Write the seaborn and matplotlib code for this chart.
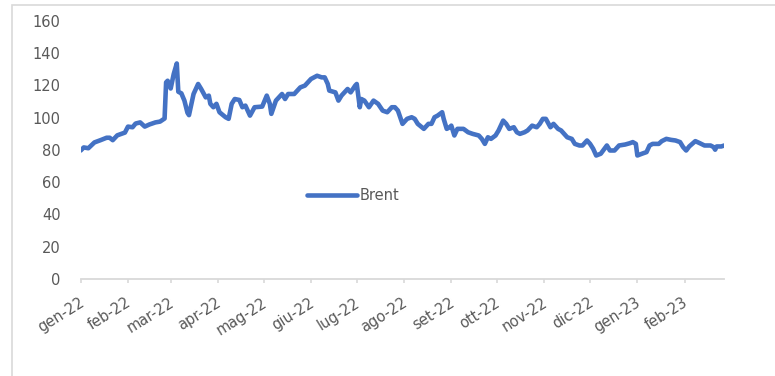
import matplotlib
matplotlib.use("Agg")
import matplotlib.pyplot as plt
import matplotlib.transforms as mtransforms
from matplotlib.patches import Rectangle
import pandas as pd
import seaborn as sns

# Brent spot price, USD per barrel
dates = [
    "2022-01-03", "2022-01-05", "2022-01-08", "2022-01-12", "2022-01-16", "2022-01-20", "2022-01-22",
    "2022-01-24", "2022-01-27",
    "2022-02-01", "2022-02-03", "2022-02-06", "2022-02-08", "2022-02-11", "2022-02-14", "2022-02-17",
    "2022-02-21", "2022-02-24", "2022-02-27", "2022-02-28",
    "2022-03-01", "2022-03-03", "2022-03-05", "2022-03-07", "2022-03-08", "2022-03-10", "2022-03-12",
    "2022-03-14", "2022-03-15", "2022-03-18", "2022-03-21", "2022-03-23", "2022-03-26", "2022-03-28",
    "2022-03-29", "2022-03-31",
    "2022-04-02", "2022-04-04", "2022-04-08", "2022-04-10", "2022-04-12", "2022-04-14", "2022-04-17",
    "2022-04-19", "2022-04-21", "2022-04-24", "2022-04-27",
    "2022-05-02", "2022-05-05", "2022-05-07", "2022-05-08", "2022-05-11", "2022-05-15", "2022-05-17",
    "2022-05-19", "2022-05-23", "2022-05-27", "2022-05-30",
    "2022-06-01", "2022-06-03", "2022-06-07", "2022-06-10", "2022-06-12", "2022-06-14", "2022-06-15",
    "2022-06-19", "2022-06-21", "2022-06-23", "2022-06-25", "2022-06-27", "2022-06-29",
    "2022-07-02", "2022-07-03", "2022-07-05", "2022-07-06", "2022-07-08", "2022-07-11", "2022-07-14",
    "2022-07-17", "2022-07-20", "2022-07-23", "2022-07-26", "2022-07-28", "2022-07-30",
    "2022-08-02", "2022-08-05", "2022-08-08", "2022-08-10", "2022-08-12", "2022-08-16", "2022-08-19",
    "2022-08-21", "2022-08-23", "2022-08-25", "2022-08-28", "2022-08-29", "2022-08-31",
    "2022-09-02", "2022-09-03", "2022-09-05", "2022-09-07", "2022-09-11", "2022-09-14", "2022-09-17",
    "2022-09-21", "2022-09-23", "2022-09-25", "2022-09-27", "2022-09-29",
    "2022-10-02", "2022-10-04", "2022-10-07", "2022-10-09", "2022-10-11", "2022-10-14", "2022-10-16",
    "2022-10-18", "2022-10-21", "2022-10-23", "2022-10-26", "2022-10-29", "2022-10-31",
    "2022-11-02", "2022-11-04", "2022-11-07", "2022-11-09", "2022-11-12", "2022-11-14", "2022-11-18",
    "2022-11-21", "2022-11-23", "2022-11-26", "2022-11-28",
    "2022-12-01", "2022-12-03", "2022-12-05", "2022-12-07", "2022-12-10", "2022-12-14", "2022-12-16",
    "2022-12-19", "2022-12-22", "2022-12-26", "2022-12-29", "2022-12-31",
    "2023-01-02", "2023-01-03", "2023-01-06", "2023-01-09", "2023-01-11", "2023-01-13", "2023-01-17",
    "2023-01-19", "2023-01-22", "2023-01-25", "2023-01-28", "2023-01-31",
    "2023-02-02", "2023-02-04", "2023-02-06", "2023-02-10", "2023-02-13", "2023-02-16", "2023-02-20",
    "2023-02-22", "2023-02-23", "2023-02-24", "2023-02-27", "2023-03-01",
]
brent = [
    79.6, 81.5, 81.0, 84.6, 86.0, 87.5, 87.5, 86.0, 89.0,
    90.7, 94.4, 94.0, 96.3, 97.0, 94.4, 95.7, 97.0, 97.5, 99.4, 121.8,
    122.8, 118.0, 127.0, 133.5, 116.0, 115.0, 110.5, 103.0, 101.5, 114.6, 120.8, 117.7, 112.5, 113.6,
    108.5, 106.4,
    108.5, 103.3, 100.2, 99.2, 108.5, 111.5, 110.9, 106.4, 107.4, 101.2, 106.4,
    106.8, 113.6, 108.5, 102.3, 110.5, 114.6, 111.5, 114.6, 114.6, 118.7, 119.8,
    121.8, 123.9, 125.9, 124.9, 124.9, 120.8, 116.7, 115.6, 110.5, 113.6, 115.6, 117.7, 115.6,
    119.8, 120.8, 106.4, 111.5, 110.5, 106.4, 110.5, 108.5, 104.3, 103.3, 106.4, 106.4, 104.3,
    96.1, 99.2, 100.2, 99.2, 96.1, 93.0, 96.1, 96.1, 100.2, 101.2, 103.3, 99.2, 93.0,
    94.0, 95.0, 88.9, 93.0, 93.0, 90.9, 89.9, 88.9, 86.8, 83.7, 87.8, 86.8,
    88.9, 92.0, 98.1, 96.1, 93.0, 94.0, 90.9, 89.9, 90.9, 92.0, 95.0, 94.0, 96.1,
    99.2, 99.2, 94.0, 96.1, 93.0, 92.0, 87.8, 86.8, 83.7, 82.7, 82.7,
    85.8, 83.7, 80.7, 76.5, 77.6, 82.7, 79.6, 79.6, 82.7, 83.3, 84.1, 84.8,
    83.7, 76.5, 77.6, 78.6, 82.7, 83.7, 83.7, 85.4, 86.8, 86.2, 85.8, 84.8,
    81.7, 79.6, 82.1, 85.4, 84.1, 82.7, 82.7, 81.7, 80.1, 82.1, 82.1, 82.7,
]
month_labels = [
    "gen-22", "feb-22", "mar-22", "apr-22", "mag-22", "giu-22", "lug-22",
    "ago-22", "set-22", "ott-22", "nov-22", "dic-22", "gen-23", "feb-23",
]
y_ticks = [0, 20, 40, 60, 80, 100, 120, 140, 160]

LINE_BLUE = "#4472C4"
TEXT_GREY = "#595959"
AXIS_GREY = "#D9D9D9"

df = pd.DataFrame({"data": pd.to_datetime(dates), "Brent": brent})

sns.set_style("white")
plt.rcParams["font.family"] = ["DejaVu Sans"]

fig = plt.figure(figsize=(7.75, 3.76), dpi=100)
ax = fig.add_axes([80.7 / 775, 1 - 279 / 376, (724.3 - 80.7) / 775, (279 - 20.7) / 376])

sns.lineplot(data=df, x="data", y="Brent", ax=ax, color=LINE_BLUE, linewidth=3.3,
             label="Brent", solid_joinstyle="round", solid_capstyle="round")

# axis ranges and ticks (Excel-style date axis: one tick per month from the first date)
ax.set_xlim(df["data"].iloc[0], df["data"].iloc[-1])
ax.set_ylim(y_ticks[0], y_ticks[-1])
tick_dates = pd.date_range(df["data"].iloc[0], periods=len(month_labels), freq=pd.DateOffset(months=1))
ax.set_xticks(tick_dates)
ax.set_xticklabels(month_labels)
ax.set_yticks(y_ticks)
ax.set_yticklabels([str(v) for v in y_ticks])
ax.set_xlabel("")
ax.set_ylabel("")

for side in ("left", "right", "top"):
    ax.spines[side].set_visible(False)
ax.spines["bottom"].set_color(AXIS_GREY)
ax.spines["bottom"].set_linewidth(1.3)

ax.tick_params(axis="y", length=0, pad=14.5, labelsize=10.5, labelcolor=TEXT_GREY)
ax.tick_params(axis="x", direction="out", length=3.2, width=1.2, color=AXIS_GREY,
               pad=13, labelsize=10.5, labelcolor=TEXT_GREY, bottom=True)

shift = mtransforms.ScaledTranslation(2 / 100, 0, fig.dpi_scale_trans)
for lab in ax.get_xticklabels():
    lab.set_rotation(32)
    lab.set_ha("right")
    lab.set_va("center")
    lab.set_rotation_mode("anchor")
    lab.set_transform(lab.get_transform() + shift)

leg = ax.legend(loc="center left", bbox_to_anchor=((300 - 80.7) / 643.6, (279 - 195.3) / 258.3),
                frameon=False, fontsize=10.5, handlelength=3.4, handletextpad=0.2, borderpad=0)
for t in leg.get_texts():
    t.set_color(TEXT_GREY)
for h in leg.get_lines():
    h.set_linewidth(3.3)

# light chart-area border
fig.patches.append(Rectangle((12 / 775, -0.2), 1.2, 1 - 5 / 376 + 0.2, transform=fig.transFigure,
                             fill=False, edgecolor=AXIS_GREY, linewidth=1.2, clip_on=False))

fig.savefig("out.png", dpi=100)
